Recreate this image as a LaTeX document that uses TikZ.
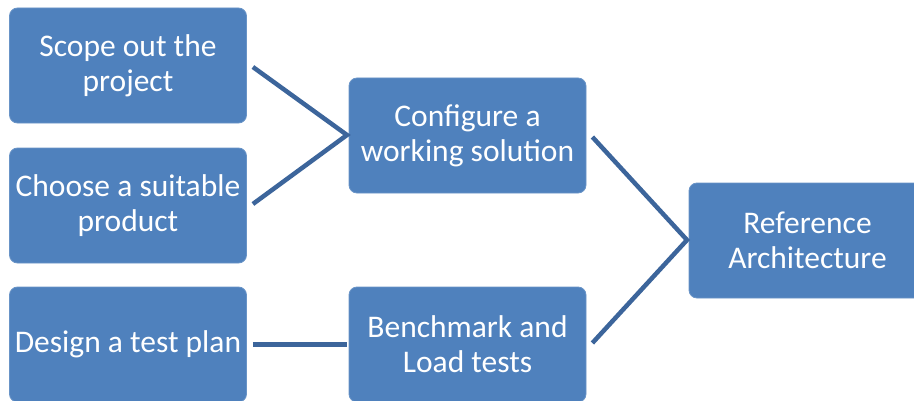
\documentclass[tikz,border=0pt]{standalone}
\usepackage{fontspec}
\setmainfont{Carlito}
\definecolor{boxfill}{HTML}{4F81BD}
\definecolor{linec}{HTML}{3C659B}
\begin{document}
\begin{tikzpicture}[x=1pt,y=1pt,
  box/.style={rectangle, rounded corners=8pt, fill=boxfill, draw=boxfill!85!white, line width=0.8pt,
    minimum width=237pt, minimum height=115pt, inner sep=0pt, text=white, align=center,
    font=\fontsize{31.5}{35}\selectfont},
  conn/.style={draw=linec, line width=4.5pt}]
\useasboundingbox (0,0) rectangle (914,400);
\clip (0,0) rectangle (914,400);
\node[box] (scope) at (128,334.5) {Scope out the\\project};
\node[box] (choose) at (128,194.5) {Choose a suitable\\product};
\node[box] (design) at (128,55.5) {Design a test plan};
\node[box] (config) at (467.5,264.5) {Configure a\\working solution};
\node[box] (bench) at (467.5,55.5) {Benchmark and\\Load tests};
\node[box] (ref) at (807.5,159.5) {Reference\\Architecture};
\coordinate (a1) at (347,265);
\coordinate (a2) at (687,160);
\draw[conn] ([xshift=6pt,yshift=-1.5pt]scope.east) -- (a1) -- ([xshift=6pt,yshift=1.5pt]choose.east);
\draw[conn] ([xshift=6pt]design.east) -- ([xshift=-2pt]bench.west);
\draw[conn] ([xshift=6pt,yshift=-1.5pt]config.east) -- (a2) -- ([xshift=6pt,yshift=1.5pt]bench.east);
\end{tikzpicture}
\end{document}
